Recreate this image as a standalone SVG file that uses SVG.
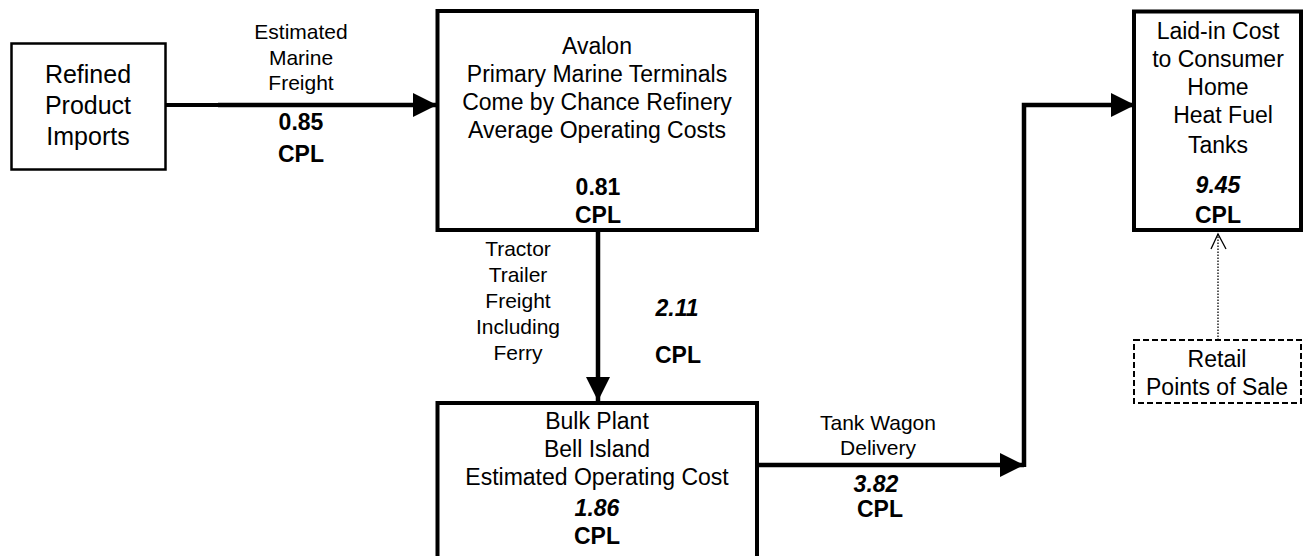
<svg xmlns="http://www.w3.org/2000/svg" width="1304" height="556" viewBox="0 0 1304 556">
<style>
text{font-family:"Liberation Sans",Arial,Helvetica,sans-serif;fill:#000;text-anchor:middle}
.box{font-size:23px}
.big{font-size:25px}
.lbl{font-size:21px}
.num{font-size:23px;font-weight:bold}
.it{font-style:italic}
.nb{fill:#fff;stroke:#000;stroke-width:4}
.conn{fill:none;stroke:#000;stroke-width:4.5}
</style>
<defs>
<marker id="ah" markerWidth="24" markerHeight="24" viewBox="0 0 24 24" refX="24" refY="12" orient="auto" markerUnits="userSpaceOnUse">
<path d="M0,0 L24,12 L0,24 Z" fill="#000"/>
</marker>
</defs>
<rect width="1304" height="556" fill="#fff"/>

<g id="connectors">
<line x1="166" y1="105" x2="219" y2="105" stroke="#000" stroke-width="4"/>
<line class="conn" x1="218" y1="105" x2="437" y2="105" stroke-width="5" marker-end="url(#ah)"/>
<line class="conn" x1="598" y1="232" x2="598" y2="401" stroke-width="5" marker-end="url(#ah)"/>
<line class="conn" x1="758" y1="465" x2="1024" y2="465" marker-end="url(#ah)"/>
<polyline class="conn" points="1024,467 1024,105 1135,105" marker-end="url(#ah)"/>
<line x1="1218" y1="340" x2="1218" y2="234" stroke="#000" stroke-width="1.3" stroke-dasharray="1.5,1.5"/>
<polyline points="1211,249 1218,234 1226,249" fill="none" stroke="#000" stroke-width="1.3"/>
<g id="label-marine">
<text class="lbl" x="301" y="39">Estimated</text>
<text class="lbl" x="301" y="65">Marine</text>
<text class="lbl" x="301" y="90">Freight</text>
<text class="num" x="301" y="130">0.85</text>
<text class="num" x="301" y="162">CPL</text>
</g>
<g id="label-tractor">
<text class="lbl" x="518" y="256">Tractor</text>
<text class="lbl" x="518" y="282">Trailer</text>
<text class="lbl" x="518" y="308">Freight</text>
<text class="lbl" x="518" y="334">Including</text>
<text class="lbl" x="518" y="360">Ferry</text>
<text class="num it" x="677" y="316">2.11</text>
<text class="num" x="678" y="363">CPL</text>
</g>
<g id="label-tank">
<text class="lbl" x="878" y="430">Tank Wagon</text>
<text class="lbl" x="878" y="455">Delivery</text>
<text class="num it" x="876" y="492">3.82</text>
<text class="num" x="880" y="517">CPL</text>
</g>
</g>

<g id="node-imports">
<rect x="11.5" y="43.5" width="154" height="126" fill="#fff" stroke="#000" stroke-width="2.5"/>
<text class="big" x="88" y="83">Refined</text>
<text class="big" x="88" y="114">Product</text>
<text class="big" x="88" y="145">Imports</text>
</g>

<g id="node-avalon">
<rect class="nb" x="437.5" y="11" width="319.5" height="219"/>
<text class="box" x="597" y="54">Avalon</text>
<text class="box" x="597" y="82">Primary Marine Terminals</text>
<text class="box" x="597" y="110">Come by Chance Refinery</text>
<text class="box" x="597" y="138">Average Operating Costs</text>
<text class="num" x="598" y="195">0.81</text>
<text class="num" x="598" y="223">CPL</text>
</g>

<g id="node-bulk">
<rect class="nb" x="437.5" y="403" width="319.5" height="170"/>
<text class="box" x="597" y="429">Bulk Plant</text>
<text class="box" x="597" y="457">Bell Island</text>
<text class="box" x="597" y="485">Estimated Operating Cost</text>
<text class="num it" x="597" y="516">1.86</text>
<text class="num" x="597" y="544">CPL</text>
</g>

<g id="node-laidin">
<rect class="nb" x="1134" y="11.5" width="167" height="218.5"/>
<text class="box" x="1218" y="39">Laid-in Cost</text>
<text class="box" x="1218" y="67">to Consumer</text>
<text class="box" x="1218" y="95">Home</text>
<text class="box" x="1223" y="123">Heat Fuel</text>
<text class="box" x="1218" y="153">Tanks</text>
<text class="num it" x="1218" y="193">9.45</text>
<text class="num" x="1218" y="223">CPL</text>
</g>

<g id="node-retail">
<rect x="1134" y="340" width="167" height="63" fill="#fff" stroke="#000" stroke-width="2" stroke-dasharray="6,3"/>
<text class="box" x="1217" y="367">Retail</text>
<text class="box" x="1217" y="395">Points of Sale</text>
</g>
</svg>
